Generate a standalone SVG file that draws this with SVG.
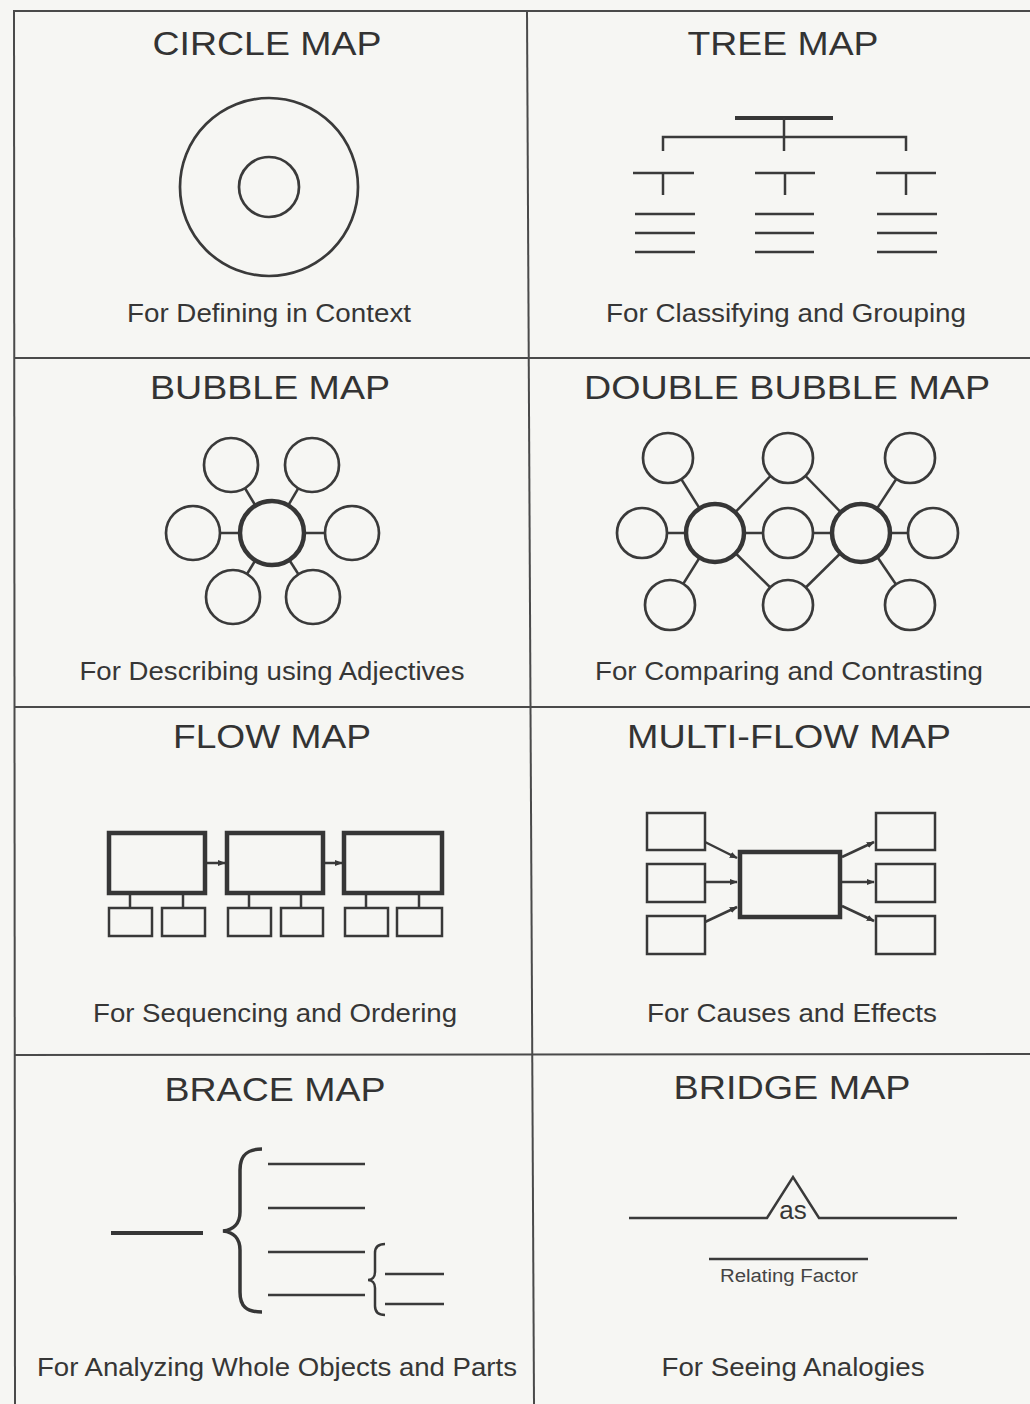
<svg xmlns="http://www.w3.org/2000/svg" width="1030" height="1404" viewBox="0 0 1030 1404">
<defs>
<style>
.t{font-family:"Liberation Sans",Arial,sans-serif;font-size:34px;fill:#333;text-anchor:middle}
.s{font-family:"Liberation Sans",Arial,sans-serif;font-size:25px;fill:#363636;text-anchor:middle}
.g{stroke:#4a4a4a;stroke-width:2;fill:none}
.ln{stroke:#3a3a3a;stroke-width:2.5;fill:none;stroke-linecap:butt}
.th{stroke:#363636;stroke-width:4;fill:none}
.c{stroke:#3a3a3a;stroke-width:2.7;fill:#f6f6f3}
.cb{stroke:#363636;stroke-width:4.5;fill:#f6f6f3}
.b{stroke:#383838;stroke-width:2.5;fill:#f6f6f3}
.bb{stroke:#363636;stroke-width:4.5;fill:#f6f6f3}
</style>
<marker id="ah" viewBox="0 0 10 10" refX="9" refY="5" markerWidth="3.2" markerHeight="3.2" orient="auto" markerUnits="strokeWidth">
<path d="M0,1 L10,5 L0,9 z" fill="#383838"/>
</marker>
</defs>
<rect x="0" y="0" width="1030" height="1404" fill="#f6f6f3"/>

<g id="grid">
<line class="g" x1="14" y1="11" x2="1030" y2="11"/>
<line class="g" x1="14" y1="10" x2="15" y2="1404"/>
<line class="g" x1="527" y1="11" x2="534" y2="1404"/>
<line class="g" x1="14" y1="358" x2="1030" y2="358"/>
<line class="g" x1="14" y1="707" x2="1030" y2="707"/>
<line class="g" x1="15" y1="1055" x2="1030" y2="1054"/>
</g>

<g id="circle-map">
<text class="t" x="267" y="55" textLength="229" lengthAdjust="spacingAndGlyphs">CIRCLE MAP</text>
<circle class="c" cx="269" cy="187" r="89"/>
<circle class="c" cx="269" cy="187" r="30"/>
<text class="s" x="269" y="322" textLength="284" lengthAdjust="spacingAndGlyphs">For Defining in Context</text>
</g>

<g id="tree-map">
<text class="t" x="783" y="55" textLength="191" lengthAdjust="spacingAndGlyphs">TREE MAP</text>
<line class="th" x1="735" y1="118" x2="833" y2="118"/>
<line class="ln" x1="784" y1="118" x2="784" y2="151"/>
<path class="ln" d="M663,151 L663,137 L906,137 L906,151"/>
<line class="ln" x1="633" y1="173" x2="694" y2="173"/>
<line class="ln" x1="663" y1="173" x2="663" y2="195"/>
<line class="ln" x1="755" y1="173" x2="815" y2="173"/>
<line class="ln" x1="785" y1="173" x2="785" y2="195"/>
<line class="ln" x1="876" y1="173" x2="936" y2="173"/>
<line class="ln" x1="906" y1="173" x2="906" y2="195"/>
<line class="ln" x1="635" y1="214" x2="695" y2="214"/>
<line class="ln" x1="635" y1="233" x2="695" y2="233"/>
<line class="ln" x1="635" y1="252" x2="695" y2="252"/>
<line class="ln" x1="755" y1="214" x2="814" y2="214"/>
<line class="ln" x1="755" y1="233" x2="814" y2="233"/>
<line class="ln" x1="755" y1="252" x2="814" y2="252"/>
<line class="ln" x1="877" y1="214" x2="937" y2="214"/>
<line class="ln" x1="877" y1="233" x2="937" y2="233"/>
<line class="ln" x1="877" y1="252" x2="937" y2="252"/>
<text class="s" x="786" y="322" textLength="360" lengthAdjust="spacingAndGlyphs">For Classifying and Grouping</text>
</g>

<g id="bubble-map">
<text class="t" x="270" y="399" textLength="240" lengthAdjust="spacingAndGlyphs">BUBBLE MAP</text>
<g class="ln">
<line x1="272" y1="533" x2="231" y2="465"/>
<line x1="272" y1="533" x2="312" y2="465"/>
<line x1="272" y1="533" x2="193" y2="533"/>
<line x1="272" y1="533" x2="352" y2="533"/>
<line x1="272" y1="533" x2="233" y2="597"/>
<line x1="272" y1="533" x2="313" y2="597"/>
</g>
<circle class="c" cx="231" cy="465" r="27"/>
<circle class="c" cx="312" cy="465" r="27"/>
<circle class="c" cx="193" cy="533" r="27"/>
<circle class="c" cx="352" cy="533" r="27"/>
<circle class="c" cx="233" cy="597" r="27"/>
<circle class="c" cx="313" cy="597" r="27"/>
<circle class="cb" cx="272" cy="533" r="32"/>
<text class="s" x="272" y="680" textLength="385" lengthAdjust="spacingAndGlyphs">For Describing using Adjectives</text>
</g>

<g id="double-bubble-map">
<text class="t" x="787" y="399" textLength="406" lengthAdjust="spacingAndGlyphs">DOUBLE BUBBLE MAP</text>
<g class="ln">
<line x1="715" y1="533" x2="668" y2="458"/>
<line x1="715" y1="533" x2="642" y2="533"/>
<line x1="715" y1="533" x2="670" y2="605"/>
<line x1="715" y1="533" x2="788" y2="458"/>
<line x1="715" y1="533" x2="788" y2="533"/>
<line x1="715" y1="533" x2="788" y2="605"/>
<line x1="861" y1="533" x2="788" y2="458"/>
<line x1="861" y1="533" x2="788" y2="533"/>
<line x1="861" y1="533" x2="788" y2="605"/>
<line x1="861" y1="533" x2="910" y2="458"/>
<line x1="861" y1="533" x2="933" y2="533"/>
<line x1="861" y1="533" x2="910" y2="605"/>
</g>
<circle class="c" cx="668" cy="458" r="25"/>
<circle class="c" cx="788" cy="458" r="25"/>
<circle class="c" cx="910" cy="458" r="25"/>
<circle class="c" cx="642" cy="533" r="25"/>
<circle class="c" cx="788" cy="533" r="25"/>
<circle class="c" cx="933" cy="533" r="25"/>
<circle class="c" cx="670" cy="605" r="25"/>
<circle class="c" cx="788" cy="605" r="25"/>
<circle class="c" cx="910" cy="605" r="25"/>
<circle class="cb" cx="715" cy="533" r="29"/>
<circle class="cb" cx="861" cy="533" r="29"/>
<text class="s" x="789" y="680" textLength="388" lengthAdjust="spacingAndGlyphs">For Comparing and Contrasting</text>
</g>

<g id="flow-map">
<text class="t" x="272" y="748" textLength="198" lengthAdjust="spacingAndGlyphs">FLOW MAP</text>
<g class="ln">
<line x1="130" y1="893" x2="130" y2="908"/>
<line x1="183" y1="893" x2="183" y2="908"/>
<line x1="249" y1="893" x2="249" y2="908"/>
<line x1="301" y1="893" x2="301" y2="908"/>
<line x1="366" y1="893" x2="366" y2="908"/>
<line x1="419" y1="893" x2="419" y2="908"/>
<line x1="207" y1="863" x2="225" y2="863" marker-end="url(#ah)"/>
<line x1="325" y1="863" x2="342" y2="863" marker-end="url(#ah)"/>
</g>
<rect class="bb" x="109" y="833" width="96" height="60"/>
<rect class="bb" x="227" y="833" width="96" height="60"/>
<rect class="bb" x="344" y="833" width="98" height="60"/>
<rect class="b" x="109" y="908" width="43" height="28"/>
<rect class="b" x="162" y="908" width="43" height="28"/>
<rect class="b" x="228" y="908" width="43" height="28"/>
<rect class="b" x="281" y="908" width="42" height="28"/>
<rect class="b" x="345" y="908" width="43" height="28"/>
<rect class="b" x="397" y="908" width="45" height="28"/>
<text class="s" x="275" y="1022" textLength="364" lengthAdjust="spacingAndGlyphs">For Sequencing and Ordering</text>
</g>

<g id="multi-flow-map">
<text class="t" x="789" y="748" textLength="324" lengthAdjust="spacingAndGlyphs">MULTI-FLOW MAP</text>
<g class="ln">
<line x1="705" y1="842" x2="737" y2="858" marker-end="url(#ah)"/>
<line x1="705" y1="882" x2="737" y2="882" marker-end="url(#ah)"/>
<line x1="705" y1="922" x2="737" y2="907" marker-end="url(#ah)"/>
<line x1="842" y1="857" x2="874" y2="842" marker-end="url(#ah)"/>
<line x1="842" y1="882" x2="874" y2="882" marker-end="url(#ah)"/>
<line x1="842" y1="906" x2="874" y2="921" marker-end="url(#ah)"/>
</g>
<rect class="bb" x="740" y="852" width="100" height="65"/>
<rect class="b" x="647" y="813" width="58" height="37"/>
<rect class="b" x="647" y="864" width="58" height="38"/>
<rect class="b" x="647" y="916" width="58" height="38"/>
<rect class="b" x="876" y="813" width="59" height="37"/>
<rect class="b" x="876" y="864" width="59" height="38"/>
<rect class="b" x="876" y="916" width="59" height="38"/>
<text class="s" x="792" y="1022" textLength="290" lengthAdjust="spacingAndGlyphs">For Causes and Effects</text>
</g>

<g id="brace-map">
<text class="t" x="275" y="1101" textLength="221" lengthAdjust="spacingAndGlyphs">BRACE MAP</text>
<line class="th" x1="111" y1="1233" x2="203" y2="1233"/>
<path d="M262,1149 C246,1149 240,1156 240,1170 L240,1212 C240,1224 233,1230 223,1231 C233,1232 240,1238 240,1250 L240,1292 C240,1306 246,1312 262,1312" stroke="#363636" stroke-width="3.5" fill="none"/>
<g class="ln">
<line x1="268" y1="1164" x2="365" y2="1164"/>
<line x1="268" y1="1208" x2="365" y2="1208"/>
<line x1="268" y1="1252" x2="365" y2="1252"/>
<line x1="268" y1="1295" x2="365" y2="1295"/>
<line x1="385" y1="1274" x2="444" y2="1274"/>
<line x1="385" y1="1304" x2="444" y2="1304"/>
</g>
<path d="M385,1244 C378,1244 375,1247 375,1253 L375,1272 C375,1277 372,1280 368,1280 C372,1280 375,1283 375,1288 L375,1306 C375,1312 378,1315 385,1315" stroke="#383838" stroke-width="2.5" fill="none"/>
<text class="s" x="277" y="1376" textLength="480" lengthAdjust="spacingAndGlyphs">For Analyzing Whole Objects and Parts</text>
</g>

<g id="bridge-map">
<text class="t" x="792" y="1099" textLength="237" lengthAdjust="spacingAndGlyphs">BRIDGE MAP</text>
<path class="ln" d="M629,1218 L767,1218 L793,1177 L819,1218 L957,1218"/>
<text x="793" y="1219" font-family="'Liberation Sans',Arial,sans-serif" font-size="26" fill="#363636" text-anchor="middle">as</text>
<line class="ln" x1="709" y1="1259" x2="868" y2="1259"/>
<text x="789" y="1282" font-family="'Liberation Sans',Arial,sans-serif" font-size="18" fill="#444" text-anchor="middle" textLength="138" lengthAdjust="spacingAndGlyphs">Relating Factor</text>
<text class="s" x="793" y="1376" textLength="263" lengthAdjust="spacingAndGlyphs">For Seeing Analogies</text>
</g>
</svg>
